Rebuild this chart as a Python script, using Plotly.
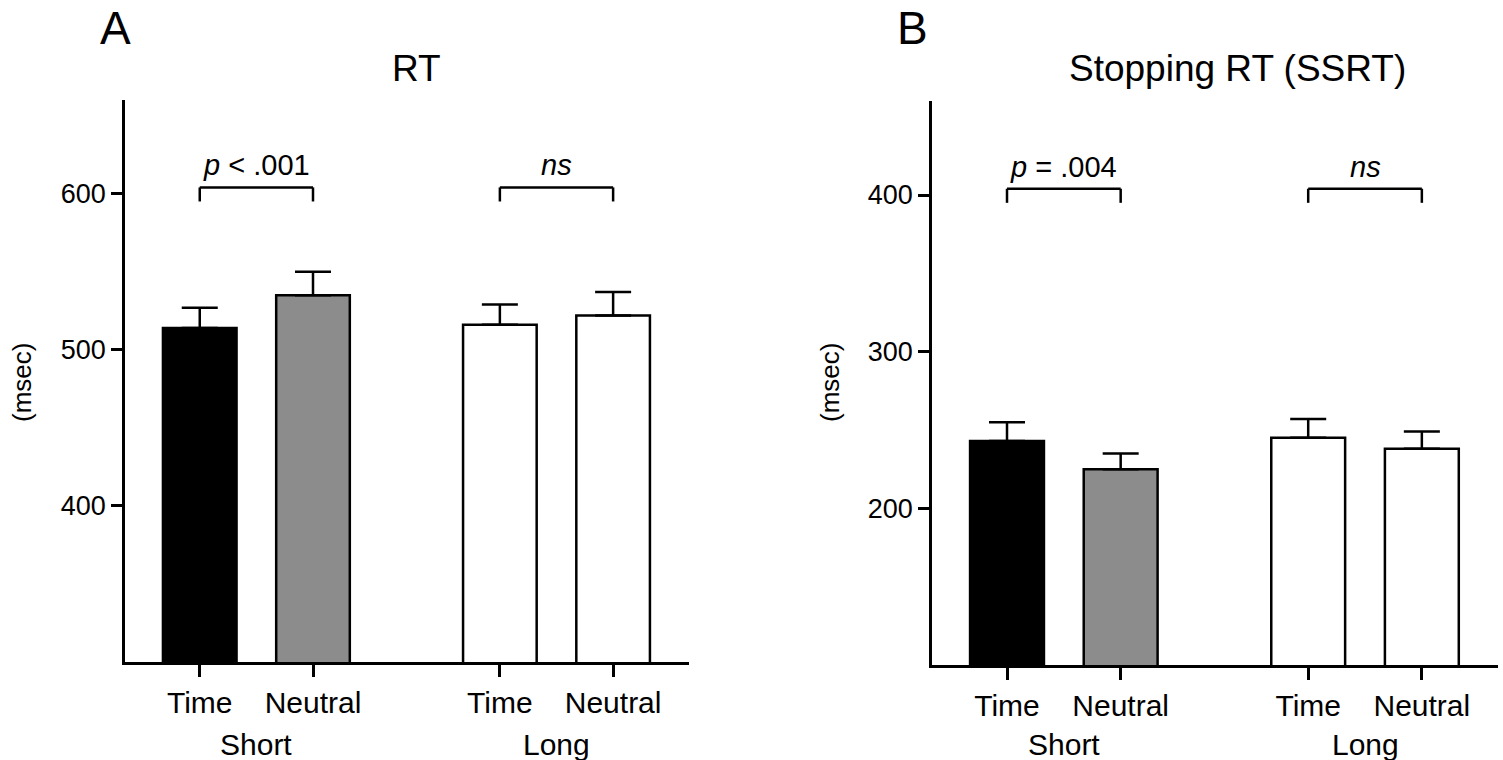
import plotly.graph_objects as go

# ── dados ─────────────────────────────────────────────────────────────────
condicoes = ["Time", "Neutral", "Time", "Neutral"]
grupos = ["Short", "Long"]
rt_media = [514, 535, 516, 522]
rt_erro = [13, 15, 13, 15]
ssrt_media = [243, 225, 245, 238]
ssrt_erro = [12, 10, 12, 11]
rt_ticks = [400, 500, 600]
ssrt_ticks = [200, 300, 400]
rotulos_p_rt = ["<i>p</i> &lt; .001", "<i>ns</i>"]
rotulos_p_ssrt = ["<i>p</i> = .004", "<i>ns</i>"]

# ── estilo ────────────────────────────────────────────────────────────────
W, H = 1503, 760
FONTE = "Liberation Sans, Arial, sans-serif"
CORES = ["#000000", "#8c8c8c", "#ffffff", "#ffffff"]
POS = [0, 1, 2.65, 3.65]
XR = [-0.66, 4.32]


def px_x(p):
    return p / W


def px_y(p):
    return 1 - p / H


fig = go.Figure()

paineis = [
    dict(media=rt_media, erro=rt_erro, ticks=rt_ticks, yr=[300, 660], xa="x", ya="y",
         dx=[125, 689], dy=[662, 100], barra=604, queda=9, rot=rotulos_p_rt,
         titulo="RT", tx=416, letra="A", lx=115, msec_x=22),
    dict(media=ssrt_media, erro=ssrt_erro, ticks=ssrt_ticks, yr=[100, 460], xa="x2", ya="y2",
         dx=[932, 1498], dy=[665, 101], barra=404, queda=9, rot=rotulos_p_ssrt,
         titulo="Stopping RT (SSRT)", tx=1237, letra="B", lx=913, msec_x=830),
]

shapes, anots = [], []
for i, p in enumerate(paineis):
    fig.add_bar(
        x=POS, y=p["media"], width=0.65, xaxis=p["xa"], yaxis=p["ya"],
        marker=dict(color=CORES, line=dict(color="black", width=2.5)),
        error_y=dict(type="data", symmetric=False, array=p["erro"],
                     arrayminus=[0] * 4, color="black", thickness=2.5, width=18),
        showlegend=False, hoverinfo="skip",
    )
    sufixo = "" if i == 0 else "2"
    fig.layout["xaxis" + sufixo] = dict(
        domain=[px_x(p["dx"][0]), px_x(p["dx"][1])], range=XR, anchor=p["ya"],
        tickvals=POS, ticktext=condicoes, ticks="outside", ticklen=12, tickwidth=2.5,
        tickcolor="black", showline=True, linewidth=2.5, linecolor="black",
        showgrid=False, zeroline=False, tickfont=dict(size=30, color="black"),
    )
    fig.layout["yaxis" + sufixo] = dict(
        domain=[px_y(p["dy"][0]), px_y(p["dy"][1])], range=p["yr"], anchor=p["xa"],
        tickvals=p["ticks"], ticks="outside", ticklen=11, tickwidth=2.5,
        tickcolor="black", showline=True, linewidth=2.5, linecolor="black",
        showgrid=False, zeroline=False, tickfont=dict(size=27, color="black"),
    )
    # colchetes de significância
    for k in range(2):
        x0, x1 = POS[2 * k], POS[2 * k + 1]
        y0, y1 = p["barra"], p["barra"] - p["queda"]
        estilo = dict(type="line", xref=p["xa"], yref=p["ya"],
                      line=dict(color="black", width=2.5))
        shapes += [dict(estilo, x0=x0, x1=x1, y0=y0, y1=y0),
                   dict(estilo, x0=x0, x1=x0, y0=y0, y1=y1),
                   dict(estilo, x0=x1, x1=x1, y0=y0, y1=y1)]
        anots.append(dict(x=(x0 + x1) / 2, y=y0, xref=p["xa"], yref=p["ya"],
                          text=p["rot"][k], showarrow=False, xanchor="center",
                          yanchor="bottom", yshift=4, font=dict(size=29)))
        anots.append(dict(x=(x0 + x1) / 2, y=px_y(744), xref=p["xa"], yref="paper",
                          text=grupos[k], showarrow=False, xanchor="center",
                          yanchor="middle", font=dict(size=30)))
    anots.append(dict(x=px_x(p["tx"]), y=px_y(68), xref="paper", yref="paper",
                      text=p["titulo"], showarrow=False, xanchor="center",
                      yanchor="middle", font=dict(size=37)))
    anots.append(dict(x=px_x(p["lx"]), y=1, xref="paper", yref="paper",
                      text=p["letra"], showarrow=False, xanchor="center",
                      yanchor="top", font=dict(size=46)))
    anots.append(dict(x=px_x(p["msec_x"]), y=px_y(383), xref="paper", yref="paper",
                      text="(msec)", showarrow=False, textangle=-90,
                      xanchor="center", yanchor="middle", font=dict(size=26)))

fig.update_layout(
    width=W, height=H, margin=dict(l=0, r=0, t=0, b=0),
    paper_bgcolor="white", plot_bgcolor="white",
    font=dict(family=FONTE, color="black"),
    shapes=shapes, annotations=anots,
)

fig.write_html("out.html", config={"displayModeBar": False},
               post_script="document.body.style.margin='0';")
